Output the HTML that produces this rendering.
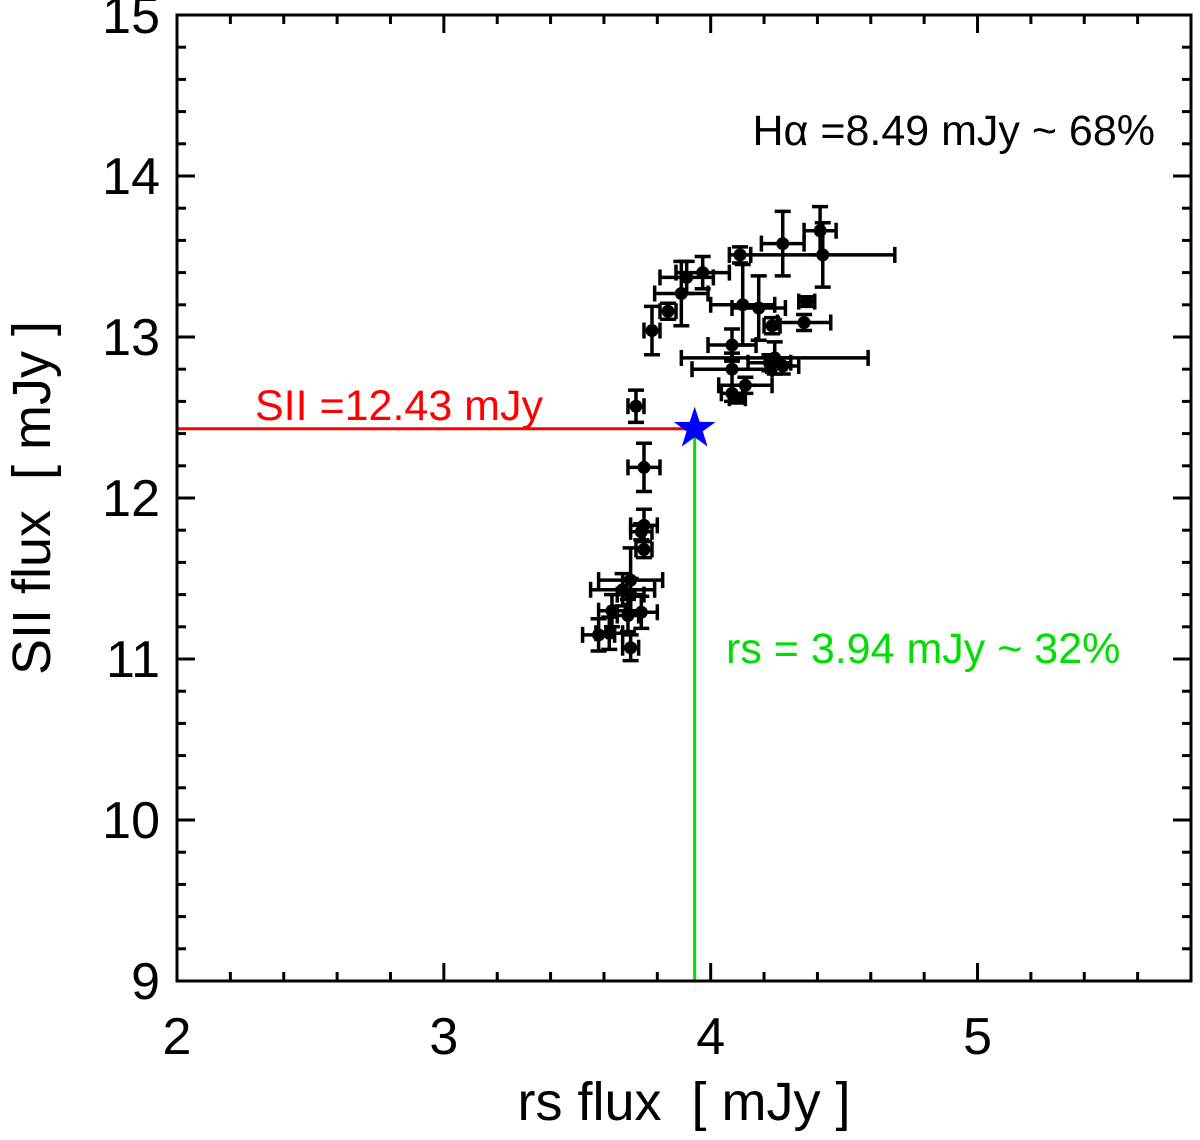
<!DOCTYPE html>
<html><head><meta charset="utf-8"><style>
body{margin:0;background:#fff;}
svg text{font-family:"Liberation Sans",sans-serif;white-space:pre;}
</style></head><body>
<svg id="chart" width="1200" height="1135" xmlns="http://www.w3.org/2000/svg">
<g id="marks"></g>
<g id="axes"></g>
</svg>
<script>
const xs=[4.41,4.42,4.27,4.11,3.91,3.97,3.89,3.84,3.78,3.72,3.75,4.12,4.18,4.23,4.35,4.36,4.08,4.08,4.08,4.13,4.24,4.22,4.27,4.10,3.75,3.74,3.75,3.70,3.67,3.70,3.69,3.63,3.74,3.58,3.62,3.70];
const ys=[13.66,13.51,13.58,13.51,13.37,13.40,13.27,13.16,13.04,12.57,12.19,13.20,13.18,13.07,13.09,13.22,12.95,12.80,12.65,12.70,12.87,12.84,12.82,12.62,11.83,11.79,11.68,11.49,11.43,11.40,11.27,11.30,11.29,11.15,11.16,11.07];
const xerr=[0.06,0.27,0.08,0.04,0.10,0.10,0.10,0.03,0.03,0.03,0.06,0.12,0.10,0.03,0.10,0.03,0.09,0.15,0.04,0.10,0.35,0.08,0.06,0.03,0.05,0.04,0.03,0.12,0.12,0.05,0.04,0.05,0.06,0.06,0.05,0.03];
const yerr=[0.15,0.20,0.20,0.05,0.10,0.10,0.20,0.05,0.15,0.10,0.15,0.25,0.20,0.05,0.05,0.03,0.10,0.10,0.05,0.05,0.10,0.05,0.05,0.03,0.10,0.05,0.05,0.20,0.10,0.10,0.10,0.10,0.10,0.10,0.10,0.08];
const xTicks=[2,3,4,5];
const yTicks=[9,10,11,12,13,14,15];
const sii=12.43, rs=3.94;
const L=177,R=1191,T=15,B=981;
const X=v=>L+(v-2)*(R-L)/3.8;
const Y=v=>B-(v-9)*(B-T)/6;
const NS="http://www.w3.org/2000/svg";
function mk(tag,attrs,parent){const e=document.createElementNS(NS,tag);for(const k in attrs)e.setAttribute(k,attrs[k]);parent.appendChild(e);return e;}
const marks=document.getElementById('marks'), axes=document.getElementById('axes');
for(let i=0;i<xs.length;i++){
  const g=mk('g',{stroke:'#000','stroke-width':3.5},marks);
  
  
  const x=X(xs[i]),y=Y(ys[i]),x1=X(xs[i]-xerr[i]),x2=X(xs[i]+xerr[i]),y1=Y(ys[i]+yerr[i]),y2=Y(ys[i]-yerr[i]);
  mk('line',{x1:x1,y1:y,x2:x2,y2:y},g);
  mk('line',{x1:x1,y1:y-8,x2:x1,y2:y+8},g);
  mk('line',{x1:x2,y1:y-8,x2:x2,y2:y+8},g);
  mk('line',{x1:x,y1:y1,x2:x,y2:y2},g);
  mk('line',{x1:x-8,y1:y1,x2:x+8,y2:y1},g);
  mk('line',{x1:x-8,y1:y2,x2:x+8,y2:y2},g);
  mk('circle',{cx:x,cy:y,r:6.5,fill:'#000',stroke:'none'},g);
}
const rl=mk('line',{x1:L,y1:Y(sii),x2:X(rs),y2:Y(sii),stroke:'#f00','stroke-width':3},marks);


const gl=mk('line',{x1:X(rs),y1:Y(sii),x2:X(rs),y2:B,stroke:'#0d0','stroke-width':3},marks);


let pts=[];const cx=X(rs),cy=Y(sii);
for(let k=0;k<10;k++){const a=-Math.PI/2+k*Math.PI/5,r=k%2?8.5:22;pts.push((cx+r*Math.cos(a)).toFixed(1)+','+(cy+r*Math.sin(a)).toFixed(1));}
const st=mk('polygon',{points:pts.join(' '),fill:'#00f'},marks);


const fr=mk('rect',{x:L,y:T,width:R-L,height:B-T,fill:'none',stroke:'#000','stroke-width':3},axes);


const tk=mk('g',{stroke:'#000','stroke-width':3},axes);


for(let v=2;v<=5.8001;v+=0.2){const x=X(v);const maj=Math.abs(v-Math.round(v))<1e-6;const len=maj?18:9;
  mk('line',{x1:x,y1:B,x2:x,y2:B-len},tk);mk('line',{x1:x,y1:T,x2:x,y2:T+len},tk);}
for(let v=9;v<=15.0001;v+=0.2){const y=Y(v);const maj=Math.abs(v-Math.round(v))<1e-6;const len=maj?18:9;
  mk('line',{x1:L,y1:y,x2:L+len,y2:y},tk);mk('line',{x1:R,y1:y,x2:R-len,y2:y},tk);}
xTicks.forEach(v=>{const t=mk('text',{x:X(v),y:1054,'font-size':52,'text-anchor':'middle'},axes);t.textContent=v;
  
  });
yTicks.forEach(v=>{const t=mk('text',{x:160,y:Y(v)+18,'font-size':52,'text-anchor':'end'},axes);t.textContent=v;
  
  });
function txt(s,attrs,name){const t=mk('text',attrs,axes);t.textContent=s;
  
  return t;}
txt('rs flux  [ mJy ]',{x:684,y:1120,'font-size':54,'text-anchor':'middle'},'x-axis-title');
txt('SII flux  [ mJy ]',{x:0,y:0,'font-size':54,'text-anchor':'middle','transform':'translate(50,498) rotate(-90)'},'y-axis-title');
txt('Hα =8.49 mJy ~ 68%',{x:1155,y:145,'font-size':43,'text-anchor':'end'},'halpha-annotation');
txt('SII =12.43 mJy',{x:255,y:420,'font-size':43,fill:'#f00'},'sii-annotation');
txt('rs = 3.94 mJy ~ 32%',{x:726,y:663,'font-size':43,fill:'#0d0'},'rs-annotation');
</script>
</body></html>
